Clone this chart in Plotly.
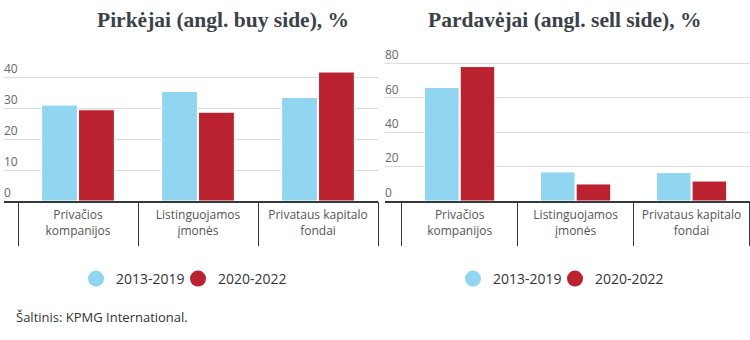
import plotly.graph_objects as go

categories = ["Privačios<br>kompanijos", "Listinguojamos<br>įmonės", "Privataus kapitalo<br>fondai"]
series_names = ["2013-2019", "2020-2022"]
buy_2013_2019 = [31.0, 35.4, 33.5]
buy_2020_2022 = [29.5, 28.7, 41.7]
sell_2013_2019 = [65.9, 16.9, 16.5]
sell_2020_2022 = [78.1, 9.9, 11.6]
buy_ticks = [0, 10, 20, 30, 40]
sell_ticks = [0, 20, 40, 60, 80]
boundaries = [-0.5, 0.5, 1.5, 2.5]
title_left = "Pirkėjai (angl. buy side), %"
title_right = "Pardavėjai (angl. sell side), %"
source = "Šaltinis: KPMG International."

BLUE = "#92d5f0"
RED = "#b9222e"
W, H = 750, 340
FONT = "Open Sans"

def px_x(p):
    return p / W

def px_y(p):
    return (H - p) / H

fig = go.Figure()

for vals, name, col in [(buy_2013_2019, series_names[0], BLUE), (buy_2020_2022, series_names[1], RED)]:
    fig.add_trace(go.Bar(x=categories, y=vals, name=name, marker=dict(color=col, line=dict(color="white", width=1)),
                         xaxis="x", yaxis="y", showlegend=False))
for vals, name, col in [(sell_2013_2019, series_names[0], BLUE), (sell_2020_2022, series_names[1], RED)]:
    fig.add_trace(go.Bar(x=categories, y=vals, name=name, marker=dict(color=col, line=dict(color="white", width=1)),
                         xaxis="x2", yaxis="y2", showlegend=False))

# legend entries (circles)
for lg, xa, ya in [("legend", "x", "y"), ("legend2", "x2", "y2")]:
    for name, col, lw in zip(series_names, [BLUE, RED], [57, 75]):
        fig.add_trace(go.Scatter(x=[None], y=[None], mode="markers", name=name,
                                 marker=dict(color=col, size=16, symbol="circle"),
                                 xaxis=xa, yaxis=ya, legend=lg, legendwidth=lw, hoverinfo="skip"))

# helper traces for boundary-tick overlay axes
fig.add_trace(go.Scatter(x=[None], y=[None], xaxis="x3", yaxis="y", showlegend=False, hoverinfo="skip"))
fig.add_trace(go.Scatter(x=[None], y=[None], xaxis="x4", yaxis="y2", showlegend=False, hoverinfo="skip"))

TOP = 35
ybot = px_y(201)
ytop = px_y(TOP)
left_dom = [px_x(4), px_x(378)]
right_dom = [px_x(385), px_x(749.5)]
left_range = [-0.5 - 14 / 120, 2.5]
right_range = [-0.5 - 16.7 / 115.9, 2.5]

xcommon = dict(type="category", showline=True, linecolor="#333a3f", linewidth=2, ticks="",
               showgrid=False, zeroline=False, ticklabelstandoff=2,
               tickfont=dict(family=FONT, size=12, color="#555"))
ycommon = dict(showline=False, zeroline=False, gridcolor="#dddddd", gridwidth=1,
               ticklabelposition="inside top", ticks="", ticklabelstandoff=-3,
               tickfont=dict(family=FONT, size=12, color="#666"), domain=[ybot, ytop])
tickaxis = dict(type="linear", tickvals=boundaries, ticks="outside", ticklen=44, tickcolor="#333a3f",
                tickwidth=1, showticklabels=False, showgrid=False, zeroline=False, showline=False)

fig.update_layout(
    width=W, height=H, margin=dict(l=0, r=0, t=0, b=0),
    paper_bgcolor="white", plot_bgcolor="white",
    barmode="group", bargap=0.385, bargroupgap=0.03,
    font=dict(family=FONT, color="#333"),
    xaxis=dict(xcommon, domain=left_dom, range=left_range, anchor="y"),
    xaxis2=dict(xcommon, domain=right_dom, range=right_range, anchor="y2"),
    xaxis3=dict(tickaxis, overlaying="x", range=left_range, anchor="y"),
    xaxis4=dict(tickaxis, overlaying="x2", range=right_range, anchor="y2"),
    yaxis=dict(ycommon, range=[0, (201 - TOP) / 3.093], tickvals=buy_ticks, anchor="x"),
    yaxis2=dict(ycommon, range=[0, (201 - TOP) / 1.721], tickvals=sell_ticks, anchor="x2"),
    legend=dict(orientation="h", x=px_x(76), xanchor="left", y=px_y(279), yanchor="middle",
                font=dict(family=FONT, size=14, color="#333"), itemsizing="trace"),
    legend2=dict(orientation="h", x=px_x(453), xanchor="left", y=px_y(279), yanchor="middle",
                 font=dict(family=FONT, size=14, color="#333"), itemsizing="trace"),
    annotations=[
        dict(text="<b>" + title_left + "</b>", x=px_x(223), y=px_y(20), xref="paper", yref="paper",
             xanchor="center", yanchor="middle", showarrow=False,
             font=dict(family="Liberation Serif", size=21.5, color="#3a4247")),
        dict(text="<b>" + title_right + "</b>", x=px_x(565), y=px_y(20), xref="paper", yref="paper",
             xanchor="center", yanchor="middle", showarrow=False,
             font=dict(family="Liberation Serif", size=21.5, color="#3a4247")),
        dict(text=source, x=px_x(14), y=px_y(317), xref="paper", yref="paper",
             xanchor="left", yanchor="middle", showarrow=False,
             font=dict(family=FONT, size=13, color="#333")),
    ],
)

fig.write_html("out.html")
